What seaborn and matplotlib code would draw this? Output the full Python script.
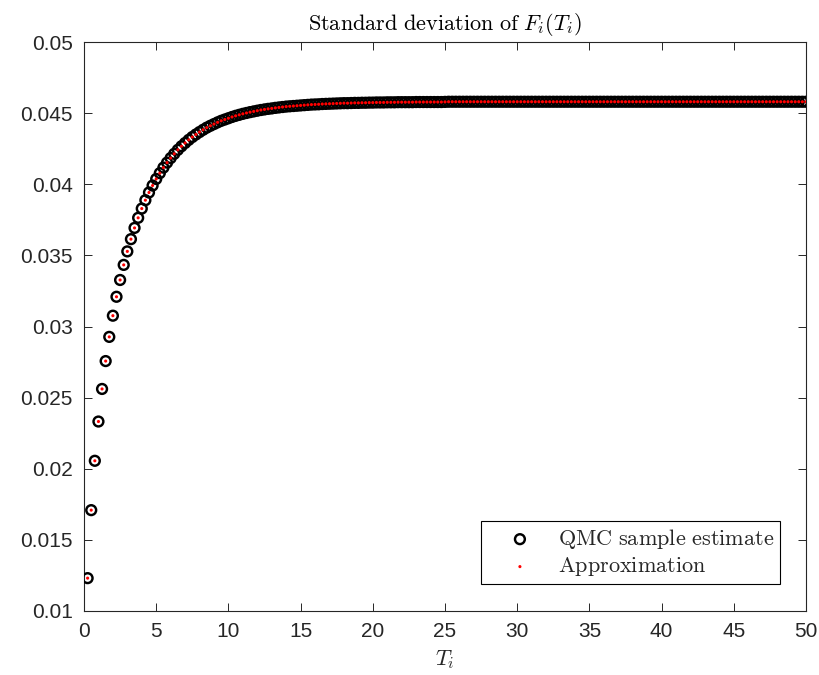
import matplotlib
matplotlib.use("Agg")
import matplotlib.pyplot as plt
import numpy as np
import pandas as pd
import seaborn as sns
from matplotlib.ticker import FuncFormatter

# ---- data ----
T = [
    0.25, 0.5, 0.75, 1.0, 1.25, 1.5, 1.75, 2.0, 2.25, 2.5,
    2.75, 3.0, 3.25, 3.5, 3.75, 4.0, 4.25, 4.5, 4.75, 5.0,
    5.25, 5.5, 5.75, 6.0, 6.25, 6.5, 6.75, 7.0, 7.25, 7.5,
    7.75, 8.0, 8.25, 8.5, 8.75, 9.0, 9.25, 9.5, 9.75, 10.0,
    10.25, 10.5, 10.75, 11.0, 11.25, 11.5, 11.75, 12.0, 12.25, 12.5,
    12.75, 13.0, 13.25, 13.5, 13.75, 14.0, 14.25, 14.5, 14.75, 15.0,
    15.25, 15.5, 15.75, 16.0, 16.25, 16.5, 16.75, 17.0, 17.25, 17.5,
    17.75, 18.0, 18.25, 18.5, 18.75, 19.0, 19.25, 19.5, 19.75, 20.0,
    20.25, 20.5, 20.75, 21.0, 21.25, 21.5, 21.75, 22.0, 22.25, 22.5,
    22.75, 23.0, 23.25, 23.5, 23.75, 24.0, 24.25, 24.5, 24.75, 25.0,
    25.25, 25.5, 25.75, 26.0, 26.25, 26.5, 26.75, 27.0, 27.25, 27.5,
    27.75, 28.0, 28.25, 28.5, 28.75, 29.0, 29.25, 29.5, 29.75, 30.0,
    30.25, 30.5, 30.75, 31.0, 31.25, 31.5, 31.75, 32.0, 32.25, 32.5,
    32.75, 33.0, 33.25, 33.5, 33.75, 34.0, 34.25, 34.5, 34.75, 35.0,
    35.25, 35.5, 35.75, 36.0, 36.25, 36.5, 36.75, 37.0, 37.25, 37.5,
    37.75, 38.0, 38.25, 38.5, 38.75, 39.0, 39.25, 39.5, 39.75, 40.0,
    40.25, 40.5, 40.75, 41.0, 41.25, 41.5, 41.75, 42.0, 42.25, 42.5,
    42.75, 43.0, 43.25, 43.5, 43.75, 44.0, 44.25, 44.5, 44.75, 45.0,
    45.25, 45.5, 45.75, 46.0, 46.25, 46.5, 46.75, 47.0, 47.25, 47.5,
    47.75, 48.0, 48.25, 48.5, 48.75, 49.0, 49.25, 49.5, 49.75, 50.0,
]

qmc_std = [
    0.01231, 0.01709, 0.02056, 0.02332, 0.02561, 0.02757, 0.02927, 0.03076, 0.03209, 0.03327,
    0.03433, 0.03528, 0.03614, 0.03693, 0.03764, 0.03829, 0.03888, 0.03942, 0.03991, 0.04037,
    0.04078, 0.04117, 0.04152, 0.04184, 0.04214, 0.04242, 0.04267, 0.04290, 0.04312, 0.04332,
    0.04350, 0.04367, 0.04383, 0.04398, 0.04411, 0.04423, 0.04435, 0.04446, 0.04455, 0.04464,
    0.04473, 0.04481, 0.04488, 0.04495, 0.04501, 0.04507, 0.04512, 0.04517, 0.04522, 0.04526,
    0.04530, 0.04533, 0.04537, 0.04540, 0.04543, 0.04546, 0.04548, 0.04550, 0.04552, 0.04554,
    0.04556, 0.04558, 0.04560, 0.04561, 0.04562, 0.04564, 0.04565, 0.04566, 0.04567, 0.04568,
    0.04569, 0.04570, 0.04570, 0.04571, 0.04572, 0.04572, 0.04573, 0.04573, 0.04574, 0.04574,
    0.04575, 0.04575, 0.04575, 0.04576, 0.04576, 0.04576, 0.04577, 0.04577, 0.04577, 0.04577,
    0.04577, 0.04578, 0.04578, 0.04578, 0.04578, 0.04578, 0.04578, 0.04578, 0.04578, 0.04579,
    0.0458, 0.0458, 0.0458, 0.0458, 0.0458, 0.0458, 0.0458, 0.0458, 0.0458, 0.0458,
    0.0458, 0.0458, 0.0458, 0.0458, 0.0458, 0.0458, 0.0458, 0.0458, 0.0458, 0.0458,
    0.0458, 0.0458, 0.0458, 0.0458, 0.0458, 0.0458, 0.0458, 0.0458, 0.0458, 0.0458,
    0.0458, 0.0458, 0.0458, 0.0458, 0.0458, 0.0458, 0.0458, 0.0458, 0.0458, 0.0458,
    0.0458, 0.0458, 0.0458, 0.0458, 0.0458, 0.0458, 0.0458, 0.0458, 0.0458, 0.0458,
    0.0458, 0.0458, 0.0458, 0.0458, 0.0458, 0.0458, 0.0458, 0.0458, 0.0458, 0.0458,
    0.0458, 0.0458, 0.0458, 0.0458, 0.0458, 0.0458, 0.0458, 0.0458, 0.0458, 0.0458,
    0.0458, 0.0458, 0.0458, 0.0458, 0.0458, 0.0458, 0.0458, 0.0458, 0.0458, 0.0458,
    0.0458, 0.0458, 0.0458, 0.0458, 0.0458, 0.0458, 0.0458, 0.0458, 0.0458, 0.0458,
    0.0458, 0.0458, 0.0458, 0.0458, 0.0458, 0.0458, 0.0458, 0.0458, 0.0458, 0.0458,
]

# approximation coincides with the QMC estimate at the visible precision
approx_std = list(qmc_std)

x_ticks = [0, 5, 10, 15, 20, 25, 30, 35, 40, 45, 50]
y_ticks = [0.01, 0.015, 0.02, 0.025, 0.03, 0.035, 0.04, 0.045, 0.05]

# ---- styling ----
sns.set_theme(style="white")
plt.rcParams["font.family"] = ["Liberation Sans", "DejaVu Sans"]
plt.rcParams["mathtext.fontset"] = "cm"

axis_col = "#262626"

fig = plt.figure(figsize=(8.19, 6.75), dpi=100)
ax = fig.add_axes([84 / 819, 1 - 611 / 675, (806 - 84) / 819, (611 - 42) / 675])

df = pd.DataFrame({"T": T, "qmc": qmc_std, "approx": approx_std})

sns.scatterplot(data=df, x="T", y="qmc", ax=ax, marker="o", s=50,
                facecolors="none", edgecolor="black", linewidth=1.75,
                label=r"$\mathrm{QMC\ sample\ estimate}$", zorder=3)
sns.scatterplot(data=df, x="T", y="approx", ax=ax, marker="o", s=5,
                color="red", edgecolor="none", linewidth=0,
                label=r"$\mathrm{Approximation}$", zorder=4)

ax.set_xlim(0, 50)
ax.set_ylim(0.01, 0.05)
ax.set_xticks(x_ticks)
ax.set_yticks(y_ticks)
ax.xaxis.set_major_formatter(FuncFormatter(lambda v, p: f"{v:g}"))
ax.yaxis.set_major_formatter(FuncFormatter(lambda v, p: f"{v:g}"))

ax.tick_params(axis="both", which="major", direction="in", length=5.5, width=0.7,
               color=axis_col, labelcolor=axis_col, labelsize=15,
               top=True, right=True, bottom=True, left=True)
ax.tick_params(axis="y", pad=8)
ax.tick_params(axis="x", pad=8)
for sp in ax.spines.values():
    sp.set_color(axis_col)
    sp.set_linewidth(0.8)
    sp.set_visible(True)

ax.set_xlabel(r"$T_i$", fontsize=16, color=axis_col, labelpad=5)
ax.set_ylabel("")
ax.set_title(r"$\mathrm{Standard\ deviation\ of\ }F_i(T_i)$", fontsize=16,
             color="black", pad=9)

leg = ax.legend(loc="lower right", bbox_to_anchor=((780 - 84) / 722, (611 - 584) / 569),
                borderaxespad=0, frameon=True, fancybox=False, fontsize=16,
                handlelength=3.0, handletextpad=0.22, borderpad=0.25,
                labelspacing=0.2, markerscale=1.0)
leg.get_frame().set_edgecolor("black")
leg.get_frame().set_linewidth(0.8)
leg.get_frame().set_facecolor("white")
leg.get_frame().set_alpha(1)

fig.savefig("out.png", dpi=100)
